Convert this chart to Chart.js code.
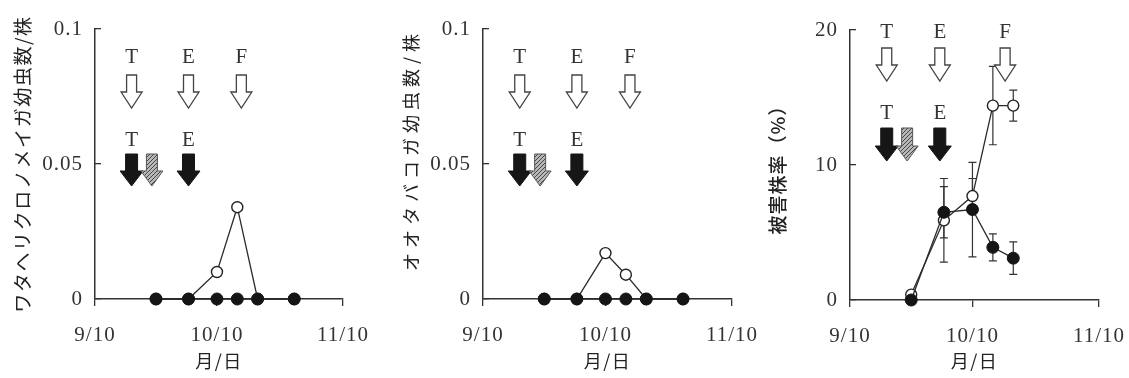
<!DOCTYPE html>
<html><head><meta charset="utf-8">
<script src="https://cdn.jsdelivr.net/npm/chart.js@4"></script>
<style>
html,body{margin:0;padding:0;background:#fff;}
#wrap{position:relative;width:1129px;height:378px;background:#fff;}
canvas{position:absolute;left:0;top:0;}
</style></head><body>
<div id="wrap">
<canvas id="c1" width="1129" height="378"></canvas>
<canvas id="c2" width="1129" height="378"></canvas>
<canvas id="c3" width="1129" height="378"></canvas>
</div>
<script>
// ---------- data ----------
const xTickDates = ['9/10', '10/10', '11/10'];
const sampleDates12 = ['9/25', '10/3', '10/10', '10/15', '10/20', '10/29'];
const p1Filled = [0, 0, 0, 0, 0, 0];
const p1Open   = [0, 0, 0.010, 0.034, 0, 0];
const p2Filled = [0, 0, 0, 0, 0, 0];
const p2Open   = [0, 0, 0.017, 0.009, 0, 0];
const sampleDates3 = ['9/25', '10/3', '10/10', '10/15', '10/20'];
const p3Filled    = [0.0, 6.5, 6.7, 3.9, 3.1];
const p3FilledErr = [0, 1.9, 3.5, 1.0, 1.2];
const p3Open      = [0.4, 5.9, 7.7, 14.4, 14.4];
const p3OpenErr   = [0, 3.1, 1.3, 2.9, 1.15];
const yTicks12 = [0, 0.05, 0.1];
const yTickLabels12 = ['0', '0.05', '0.1'];
const yTicks3 = [0, 10, 20];
const yTickLabels3 = ['0', '10', '20'];
const openArrowLabels = ['T', 'E', 'F'];
const filledArrowLabels = ['T', '', 'E'];
const filledArrowKinds = ['solid', 'hatched', 'solid'];
const p1OpenArrowDates = ['9/19', '10/3', '10/16'];
const p1FilledArrowDates = ['9/19', '9/24', '10/3'];
const p2OpenArrowDates = ['9/19', '10/3', '10/16'];
const p2FilledArrowDates = ['9/19', '9/24', '10/3'];
const p3OpenArrowDates = ['9/19', '10/2', '10/18'];
const p3FilledArrowDates = ['9/19', '9/24', '10/2'];
const yTitle1 = 'ワタヘリクロノメイガ幼虫数/株';
const yTitle2 = 'オオタバコガ幼虫数/株';
const yTitle3 = '被害株率（%）';
const xTitle = '月/日';

// ---------- helpers ----------
function dayOf(s) {
  const [m, d] = s.split('/').map(Number);
  const base = {9: -10, 10: 20, 11: 51};
  return base[m] + d;
}
function pts(dates, vals) { return dates.map((d, i) => ({x: dayOf(d), y: vals[i]})); }

const hatch = (() => {
  const c = document.createElement('canvas'); c.width = 4; c.height = 4;
  const g = c.getContext('2d');
  g.fillStyle = '#b8b8b8'; g.fillRect(0, 0, 4, 4);
  g.strokeStyle = '#454545'; g.lineWidth = 1;
  g.beginPath(); g.moveTo(0, 4); g.lineTo(4, 0); g.moveTo(-1, 1); g.lineTo(1, -1); g.moveTo(3, 5); g.lineTo(5, 3); g.stroke();
  return document.createElement('canvas').getContext('2d').createPattern(c, 'repeat');
})();

function drawArrow(ctx, x, yTop, yBot, shaftW, headW, headLen, fill, stroke, lw) {
  ctx.beginPath();
  ctx.moveTo(x - shaftW / 2, yTop);
  ctx.lineTo(x + shaftW / 2, yTop);
  ctx.lineTo(x + shaftW / 2, yBot - headLen);
  ctx.lineTo(x + headW / 2, yBot - headLen);
  ctx.lineTo(x, yBot);
  ctx.lineTo(x - headW / 2, yBot - headLen);
  ctx.lineTo(x - shaftW / 2, yBot - headLen);
  ctx.closePath();
  ctx.fillStyle = fill; ctx.fill();
  if (stroke) { ctx.strokeStyle = stroke; ctx.lineWidth = lw; ctx.lineJoin = 'miter'; ctx.stroke(); }
}

const arrowPlugin = {
  id: 'arrows',
  afterDatasetsDraw(chart, args, o) {
    const ctx = chart.ctx, xs = chart.scales.x, top = chart.chartArea.top;
    ctx.save();
    ctx.font = '21px "Liberation Serif"';
    ctx.textAlign = 'center'; ctx.textBaseline = 'middle';
    o.openDates.forEach((d, i) => {
      const x = xs.getPixelForValue(dayOf(d));
      ctx.fillStyle = '#333';
      ctx.fillText(openArrowLabels[i], x, top + o.lay.label1);
      drawArrow(ctx, x, top + o.lay.oTop, top + o.lay.oBot, 10, 21, 16, '#fff', '#444', 1.3);
    });
    o.filledDates.forEach((d, i) => {
      const x = xs.getPixelForValue(dayOf(d));
      if (filledArrowLabels[i]) { ctx.fillStyle = '#333'; ctx.fillText(filledArrowLabels[i], x, top + o.lay.label2); }
      if (filledArrowKinds[i] === 'solid') drawArrow(ctx, x, top + o.lay.fTop, top + o.lay.fBot, 12, 23, 15, '#161616', '#161616', 1);
      else drawArrow(ctx, x, top + o.lay.fTop, top + o.lay.fBot, 11, 22, 15, hatch, '#555', 1);
    });
    ctx.restore();
  }
};

const errPlugin = {
  id: 'errbars',
  beforeDatasetsDraw(chart, args, o) {
    if (!o.sets) return;
    const ctx = chart.ctx, xs = chart.scales.x, ys = chart.scales.y;
    ctx.save();
    ctx.strokeStyle = '#333'; ctx.lineWidth = 1.2;
    o.sets.forEach(s => {
      s.dates.forEach((d, i) => {
        const e = s.err[i]; if (!e) return;
        const x = xs.getPixelForValue(dayOf(d));
        const y1 = ys.getPixelForValue(s.vals[i] + e), y2 = ys.getPixelForValue(s.vals[i] - e);
        ctx.beginPath();
        ctx.moveTo(x, y1); ctx.lineTo(x, y2);
        ctx.moveTo(x - 4, y1); ctx.lineTo(x + 4, y1);
        ctx.moveTo(x - 4, y2); ctx.lineTo(x + 4, y2);
        ctx.stroke();
      });
    });
    ctx.restore();
  }
};

const spacingPlugin = {
  id: 'spacing',
  beforeDraw(chart, args, o) {
    ['x', 'y'].forEach(k => {
      const s = chart.scales[k];
      if (s._sp) return; s._sp = true;
      const t = s.drawTitle, l = s.drawLabels;
      const sp = k === 'x' ? o.x : o.y;
      s.drawTitle = function () { const c = this.ctx; c.letterSpacing = sp + 'px'; t.apply(this, arguments); c.letterSpacing = '0px'; };
      s.drawLabels = function () { const c = this.ctx; c.letterSpacing = o.ticks + 'px'; l.apply(this, arguments); c.letterSpacing = '0px'; };
    });
  }
};

function makeChart(id, cfg) {
  const tickFont = {family: 'Liberation Serif', size: 21};
  return new Chart(document.getElementById(id), {
    type: 'line',
    data: {
      datasets: [
        {data: cfg.filled, borderColor: '#2a2a2a', borderWidth: 1.3, pointRadius: 6, pointBackgroundColor: '#151515', pointBorderColor: '#151515', pointBorderWidth: 1, clip: false, tension: 0},
        {data: cfg.open, borderColor: '#2a2a2a', borderWidth: 1.3, pointRadius: 5.5, pointBackgroundColor: '#fff', pointBorderColor: '#222', pointBorderWidth: 1.4, clip: false, tension: 0}
      ]
    },
    options: {
      responsive: false, animation: false, events: [],
      devicePixelRatio: 1,
      layout: {padding: {left: cfg.L, right: cfg.R, top: cfg.T, bottom: 0}},
      plugins: {
        legend: {display: false}, tooltip: {enabled: false},
        arrows: {openDates: cfg.openArrows, filledDates: cfg.filledArrows, lay: cfg.lay},
        errbars: {sets: cfg.err},
        spacing: {x: 1.5, y: cfg.ySp, ticks: 1}
      },
      scales: {
        x: {
          type: 'linear', min: 0, max: 61,
          afterBuildTicks: s => { s.ticks = xTickDates.map(d => ({value: dayOf(d)})); },
          ticks: {callback: v => { const i = xTickDates.findIndex(d => dayOf(d) === v); return i >= 0 ? xTickDates[i] : ''; },
                  font: tickFont, color: '#333', padding: 17, maxRotation: 0, autoSkip: false, z: 1},
          grid: {drawOnChartArea: false, drawTicks: true, tickLength: 7, color: '#333', lineWidth: 1.3},
          border: {display: true, color: '#333', width: 1.5},
          title: {display: true, text: xTitle, font: {family: 'Noto Sans CJK JP', size: 18, lineHeight: 1}, color: '#222', padding: {top: 0, bottom: 8}},
          afterFit: s => { s.height = cfg.H; s.paddingLeft = 0; s.paddingRight = 0; }
        },
        y: {
          type: 'linear', min: 0, max: cfg.yMax,
          afterBuildTicks: s => { s.ticks = cfg.yTicks.map(v => ({value: v})); },
          ticks: {callback: v => { const i = cfg.yTicks.indexOf(v); return i >= 0 ? cfg.yLabels[i] : ''; },
                  font: tickFont, color: '#333', padding: 18, z: 1},
          grid: {drawOnChartArea: false, drawTicks: true, tickLength: -6, color: '#333', lineWidth: 1.3},
          border: {display: true, color: '#333', width: 1.5},
          title: {display: true, text: cfg.yTitle, align: cfg.yAlign, font: {family: 'Noto Sans CJK JP', size: cfg.yTitleSize, weight: cfg.yWeight, lineHeight: 1}, color: '#222', padding: {top: cfg.yTitlePad, bottom: 0}},
          afterFit: s => { s.width = cfg.W; s.paddingTop = 0; s.paddingBottom = 0; }
        }
      }
    },
    plugins: [spacingPlugin, errPlugin, arrowPlugin]
  });
}

const lay12 = {label1: 28, oTop: 46, oBot: 79, label2: 111, fTop: 125, fBot: 157};
const lay3 = {label1: 2, oTop: 18, oBot: 51, label2: 83, fTop: 98, fBot: 131};

makeChart('c1', {
  filled: pts(sampleDates12, p1Filled), open: pts(sampleDates12, p1Open),
  L: 0, W: 95, R: 1129 - 343, T: 29, H: 79,
  yMax: 0.1, yTicks: yTicks12, yLabels: yTickLabels12,
  yTitle: yTitle1, yAlign: 'center', yTitleSize: 19, yWeight: 'normal', yTitlePad: 13, ySp: 1.6,
  openArrows: p1OpenArrowDates, filledArrows: p1FilledArrowDates, lay: lay12, err: null
});
makeChart('c2', {
  filled: pts(sampleDates12, p2Filled), open: pts(sampleDates12, p2Open),
  L: 376, W: 107, R: 1129 - 732, T: 29, H: 79,
  yMax: 0.1, yTicks: yTicks12, yLabels: yTickLabels12,
  yTitle: yTitle2, yAlign: 'end', yTitleSize: 18, yWeight: 'normal', yTitlePad: 26, ySp: 5,
  openArrows: p2OpenArrowDates, filledArrows: p2FilledArrowDates, lay: lay12, err: null
});
makeChart('c3', {
  filled: pts(sampleDates3, p3Filled), open: pts(sampleDates3, p3Open),
  L: 753, W: 97, R: 1129 - 1099, T: 30, H: 78,
  yMax: 20, yTicks: yTicks3, yLabels: yTickLabels3,
  yTitle: yTitle3, yAlign: 'center', yTitleSize: 19, yWeight: '500', yTitlePad: 15, ySp: 1,
  openArrows: p3OpenArrowDates, filledArrows: p3FilledArrowDates, lay: lay3,
  err: [{dates: sampleDates3, vals: p3Filled, err: p3FilledErr}, {dates: sampleDates3, vals: p3Open, err: p3OpenErr}]
});
</script>
</body></html>
